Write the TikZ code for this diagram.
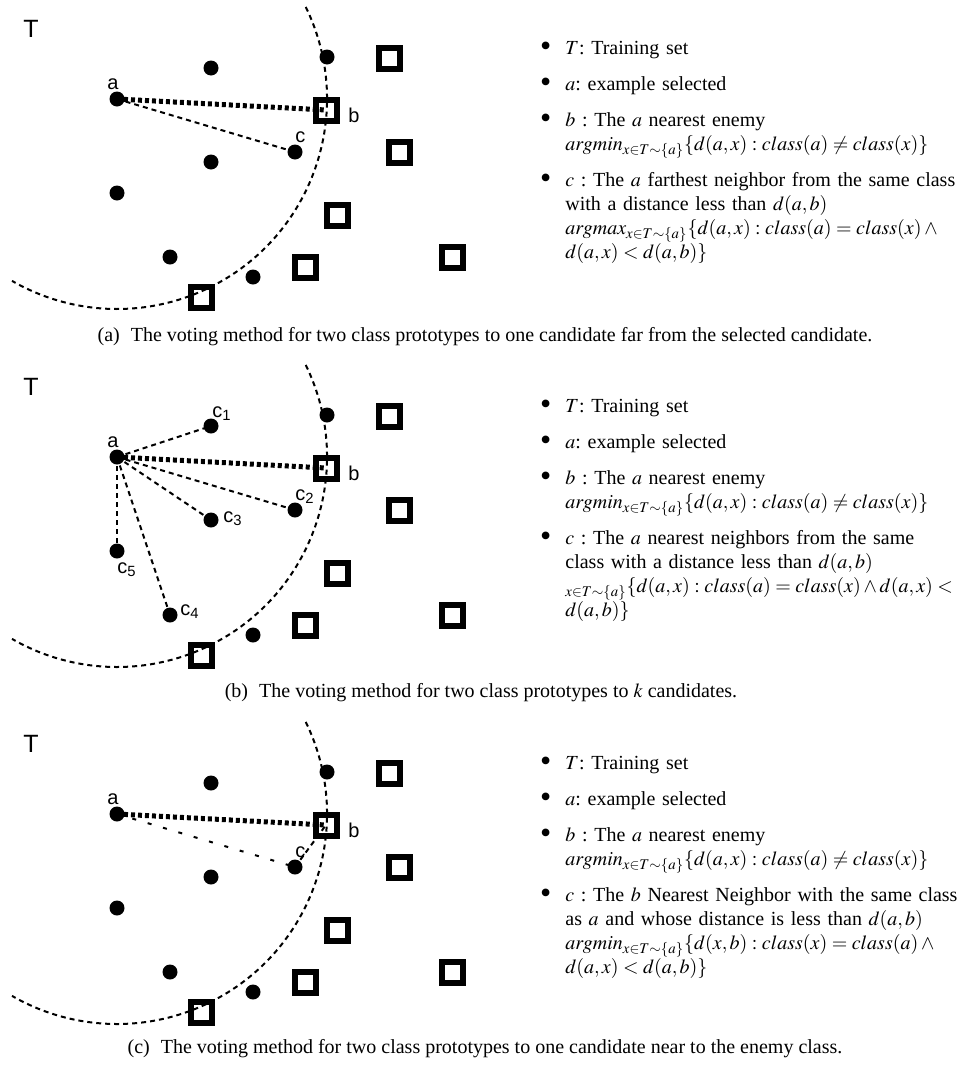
\documentclass[tikz,border=0pt]{standalone}
\usepackage{mathptmx}
\usepackage{fontspec}
\setmainfont{Liberation Serif}
\setsansfont{Liberation Sans}
\usepackage{enumitem}
\setlist[itemize]{label=\raisebox{-1pt}{\scalebox{1.6}{\textbullet}}, leftmargin=0pt, labelsep=7pt, itemsep=6pt, parsep=0pt, topsep=0pt, partopsep=0pt}
\frenchspacing
% line breaks in the formulas only where asked
\relpenalty=10000
\binoppenalty=10000
\hbadness=10000

\tikzset{
  ptdot/.style={circle, fill=black, inner sep=0pt, minimum size=7.5pt},
  sqbox/.style={rectangle, draw=black, line width=3pt, inner sep=0pt, minimum size=10.5pt},
  ptlabel/.style={font=\sffamily\fontsize{10}{12}\selectfont, inner sep=0pt, anchor=base west},
  setlabel/.style={font=\sffamily\fontsize{12.5}{15}\selectfont, inner sep=0pt, anchor=base west},
  ring/.style={line width=1pt, dash pattern=on 2.5pt off 2pt},
  enemyline/.style={line width=2.5pt, dash pattern=on 2pt off 1.5pt},
  nearline/.style={line width=1pt, dash pattern=on 2.5pt off 2pt},
  sparseline/.style={line width=1pt, dash pattern=on 2pt off 6pt},
  legend/.style={anchor=base west, text width=195pt, inner sep=0pt, font=\fontsize{10}{12}\selectfont},
  capt/.style={anchor=base, inner sep=0pt, font=\fontsize{10}{12}\selectfont},
}

% points shared by the three panels, #1 = panel prefix
\newcommand{\pointcloud}[1]{%
  % class of a: dots
  \node[ptdot] (#1a)    at (117,-99)  {};
  \node[ptdot] (#1c)    at (295,-152) {};
  \node[ptdot] (#1top)  at (327,-57)  {};
  \node[ptdot] (#1up)   at (211,-68)  {};
  \node[ptdot] (#1mid)  at (211,-162) {};
  \node[ptdot] (#1left) at (117,-193) {};
  \node[ptdot] (#1low)  at (170,-257) {};
  \node[ptdot] (#1bot)  at (253,-277) {};
  % enemy class: squares
  \node[sqbox] (#1b)  at (326,-110) {};
  \node[sqbox] (#1s1) at (389,-58)  {};
  \node[sqbox] (#1s2) at (399,-152) {};
  \node[sqbox] (#1s3) at (337,-215) {};
  \node[sqbox] (#1s4) at (452,-257) {};
  \node[sqbox] (#1s5) at (305,-267) {};
  \node[sqbox] (#1s6) at (201,-297) {};
  % radius d(a,b) round a
  \draw[ring] ([shift={(26:105pt)}]#1a.center) arc (26:-120:105pt);
  \node[setlabel] (#1T) at (23,-37) {T};
}

\newcommand{\legendtop}{%
  \item $T$: Training set
  \item $a$: example selected
  \item $b$ : The $a$ nearest enemy $argmin_{x\in T\sim\{a\}}\{d(a,x) : class(a) \neq class(x)\}$
}

\begin{document}
\begin{tikzpicture}[x=0.5pt, y=0.5pt]
\useasboundingbox (0,0) rectangle (962,-1066);
%% (a) far candidate
\begin{scope}
  \pointcloud{A}
  \node[ptlabel] (Ala) at (107,-89)  {a};
  \node[ptlabel] (Alb) at (348,-122) {b};
  \node[ptlabel] (Alc) at (295,-142) {c};
  \draw[enemyline] (Aa.center) -- (Ab.center);
  \draw[nearline] (Aa.center) -- (Ac.center);
  \node[legend] (Atxt) at (565,-30) {\begin{itemize}\legendtop
    \item $c$ : The $a$ farthest neighbor from the same class with a distance less than $d(a,b)$\newline
    $argmax_{x\in T\sim\{a\}}\{d(a,x) : class(a) = class(x) \wedge\allowbreak d(a,x) < d(a,b)\}$
  \end{itemize}};
\end{scope}
%% (b) k candidates
\begin{scope}[yshift=-179pt]
  \pointcloud{B}
  \node[ptlabel] (Bla) at (107,-89)  {a};
  \node[ptlabel] (Blb) at (348,-122) {b};
  \node[ptlabel] (Blc1) at (212,-59)  {c\textsubscript{1}};
  \node[ptlabel] (Blc2) at (295,-142) {c\textsubscript{2}};
  \node[ptlabel] (Blc3) at (223,-164) {c\textsubscript{3}};
  \node[ptlabel] (Blc4) at (180,-257) {c\textsubscript{4}};
  \node[ptlabel] (Blc5) at (117,-215) {c\textsubscript{5}};
  \draw[enemyline] (Ba.center) -- (Bb.center);
  \foreach \n in {up,c,mid,low,left}
    \draw[nearline] (Ba.center) -- (B\n.center);
  \node[legend] (Btxt) at (565,-30) {\begin{itemize}\legendtop
    \item $c$ : The $a$ nearest neighbors from the same class with a distance less than $d(a,b)$\newline
    ${}_{x\in T\sim\{a\}}\{d(a,x) : class(a) = class(x) \wedge d(a,x) <\allowbreak d(a,b)\}$
  \end{itemize}};
\end{scope}
%% (c) candidate near the enemy class
\begin{scope}[yshift=-357.5pt]
  \pointcloud{C}
  \node[ptlabel] (Cla) at (107,-89)  {a};
  \node[ptlabel] (Clb) at (348,-122) {b};
  \node[ptlabel] (Clc) at (295,-142) {c};
  \draw[enemyline] (Ca.center) -- (Cb.center);
  \draw[sparseline] (Ca.center) -- (Cc.center);
  \draw[nearline] (Cc.center) -- (Cb.center);
  \node[legend, text width=197pt] (Ctxt) at (565,-30) {\begin{itemize}\legendtop
    \item $c$ : The $b$ Nearest Neighbor with the same class as $a$ and whose distance is less than $d(a,b)$\newline
    $argmin_{x\in T\sim\{a\}}\{d(x,b) : class(x) = class(a) \wedge\allowbreak d(a,x) < d(a,b)\}$
  \end{itemize}};
\end{scope}
% captions
\node[capt] (capA) at (485,-341)  {(a)\hspace{0.55em}The voting method for two class prototypes to one candidate far from the selected candidate.};
\node[capt] (capB) at (481,-697)  {(b)\hspace{0.55em}The voting method for two class prototypes to $k$ candidates.};
\node[capt] (capC) at (485,-1053) {(c)\hspace{0.55em}The voting method for two class prototypes to one candidate near to the enemy class.};
\end{tikzpicture}
\end{document}
